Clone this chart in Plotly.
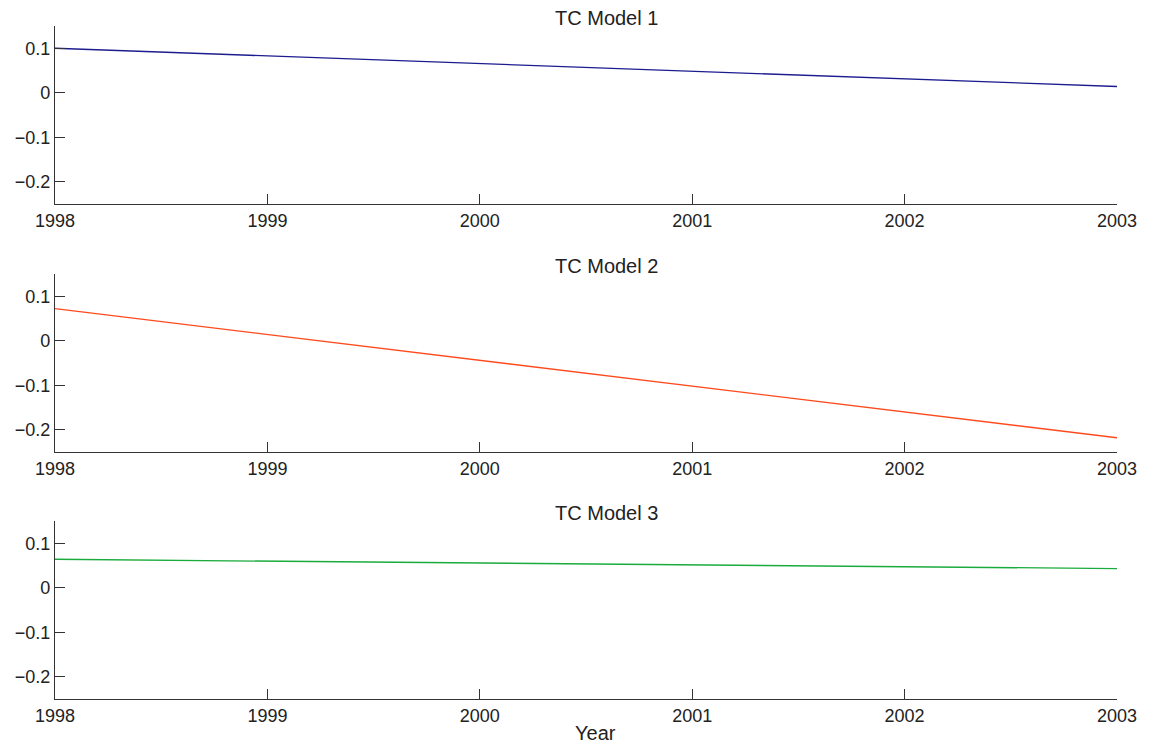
import plotly.graph_objects as go

years = [1998, 1999, 2000, 2001, 2002, 2003]
model1 = [0.100, 0.083, 0.066, 0.049, 0.031, 0.014]
model2 = [0.072, 0.014, -0.044, -0.102, -0.160, -0.218]
model3 = [0.064, 0.060, 0.056, 0.052, 0.048, 0.043]
titles = ["TC Model 1", "TC Model 2", "TC Model 3"]
colors = ["#1c1c8f", "#ff4a1c", "#1aab3c"]
ytick_vals = [-0.2, -0.1, 0, 0.1]
ytick_text = ["\u22120.2", "\u22120.1", "0", "0.1"]
xtick_vals = years
xtick_text = [str(y) for y in years]
x_label = "Year"

series = [model1, model2, model3]
domains = [[0.7355, 1.0], [0.367, 0.6315], [0.0, 0.2645]]

fig = go.Figure()
family = "Liberation Sans, Arial, sans-serif"
font = dict(family=family, size=18, color="#222222")
axis_color = "#333333"

for i, (vals, col, dom) in enumerate(zip(series, colors, domains)):
    n = "" if i == 0 else str(i + 1)
    fig.add_trace(go.Scatter(x=years, y=vals, mode="lines",
                             line=dict(color=col, width=1.3),
                             xaxis="x" + n, yaxis="y" + n, showlegend=False))
    fig.layout["xaxis" + n] = dict(
        domain=[0, 1], anchor="y" + n, range=[1998, 2003],
        tickvals=xtick_vals, ticktext=xtick_text, ticks="inside", ticklen=10,
        tickcolor=axis_color, showline=True, linecolor=axis_color, linewidth=1.2,
        showgrid=False, zeroline=False, tickfont=font)
    fig.layout["yaxis" + n] = dict(
        domain=dom, anchor="x" + n, range=[-0.25, 0.15],
        tickvals=ytick_vals, ticktext=ytick_text, ticks="inside", ticklen=10,
        tickcolor=axis_color, showline=True, linecolor=axis_color, linewidth=1.2,
        showgrid=False, zeroline=False, tickfont=font)
    fig.add_annotation(text=titles[i], xref="paper", yref="paper",
                       x=0.5 + 20.5 / 1065, y=dom[1], yshift=-5,
                       xanchor="center", yanchor="bottom", showarrow=False,
                       font=dict(family=family, size=20, color="#222222"))

fig.add_annotation(text=x_label, xref="paper", yref="paper",
                   x=0.5 + 10 / 1065, y=0, yshift=-21,
                   xanchor="center", yanchor="top", showarrow=False,
                   font=dict(family=family, size=20, color="#222222"))

fig.update_layout(width=1149, height=743,
                  margin=dict(l=55, r=26, t=26, b=44),
                  paper_bgcolor="white", plot_bgcolor="white")

fig.write_html("out.html", config={"displayModeBar": False},
               post_script="document.body.style.margin='0';document.body.style.overflow='hidden';")
